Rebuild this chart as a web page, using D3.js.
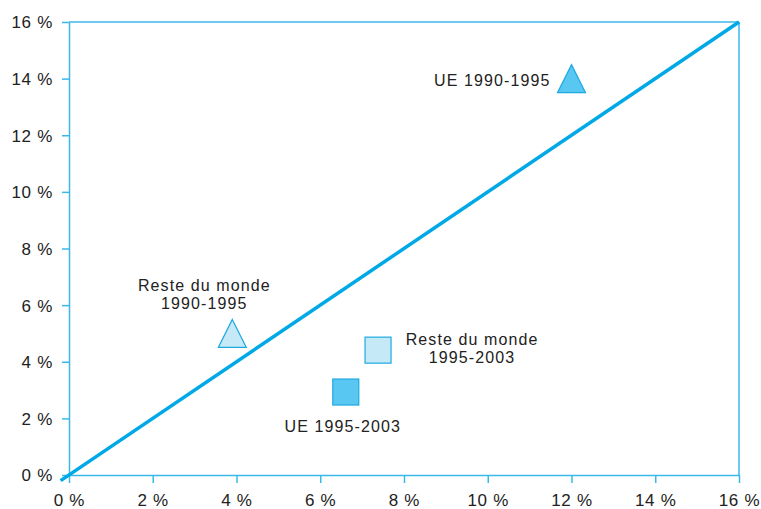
<!DOCTYPE html>
<html><head><meta charset="utf-8">
<script src="https://cdn.jsdelivr.net/npm/d3@7"></script>
<style>body{margin:0;background:#fff}svg{display:block}text{font-family:"Liberation Sans",Arial,sans-serif;fill:#222}</style>
</head><body>
<div id="chart"></div>
<script>
const xTicks = [0,2,4,6,8,10,12,14,16];
const yTicks = [0,2,4,6,8,10,12,14,16];
const names = ["UE 1990-1995","Reste du monde 1990-1995","Reste du monde 1995-2003","UE 1995-2003"];
const xVals = [12.0, 3.9, 7.38, 6.61];
const yVals = [14.0, 5.0, 4.41, 2.93];
const shapes = ["triangle","triangle","square","square"];
const fills = ["#58c8f2","#c6e9f8","#c6e9f8","#58c8f2"];
const labelLines = [["UE 1990-1995"],["Reste du monde","1990-1995"],["Reste du monde","1995-2003"],["UE 1995-2003"]];

const W=761,H=509;
const m={l:69,r:22,t:22,b:34};
const svg=d3.select("#chart").append("svg").attr("width",W).attr("height",H);
const x=d3.scaleLinear().domain([0,16]).range([m.l,W-m.r]);
const y=d3.scaleLinear().domain([0,16]).range([H-m.b,m.t]);
const axisColor="#3bb8ea";
const FS="17px", LS="0.7px", LFS="16px", LLS="1.1px";

svg.append("line").attr("x1",x(0)).attr("x2",x(16)).attr("y1",y(16)).attr("y2",y(16)).attr("stroke",axisColor).attr("stroke-width",1.5);
svg.append("line").attr("x1",x(16)).attr("x2",x(16)).attr("y1",y(16)).attr("y2",y(0)).attr("stroke",axisColor).attr("stroke-width",1.5);

const fmt=d=>d+" %";
const xa=svg.append("g").attr("transform",`translate(0,${y(0)})`).call(d3.axisBottom(x).tickValues(xTicks).tickFormat(fmt).tickSize(8).tickSizeOuter(0));
const ya=svg.append("g").attr("transform",`translate(${x(0)},0)`).call(d3.axisLeft(y).tickValues(yTicks).tickFormat(fmt).tickSize(7).tickSizeOuter(0));
[xa,ya].forEach(a=>{a.attr("font-size",null).attr("font-family",null);
 a.select(".domain").attr("stroke",axisColor).attr("stroke-width",1.5);
 a.selectAll(".tick line").attr("stroke",axisColor).attr("stroke-width",1.5);
 a.selectAll("text").style("font-size",FS).style("letter-spacing",LS).attr("fill","#222");});
xa.selectAll("text").attr("dy","0").attr("y",31);
ya.selectAll("text").attr("x",-16).attr("dy","0.35em");

svg.append("line").attr("x1",x(-0.2)).attr("y1",y(-0.2)).attr("x2",x(16)).attr("y2",y(16)).attr("stroke","#00a9e6").attr("stroke-width",3.5);

const stroke="#1ea9e1";
names.forEach((n,i)=>{
  const cx=x(xVals[i]),cy=y(yVals[i]);
  if(shapes[i]==="triangle"){
    const h=28,w=28;
    svg.append("path").attr("d",`M${cx},${cy-h/2}L${cx+w/2},${cy+h/2}L${cx-w/2},${cy+h/2}Z`).attr("fill",fills[i]).attr("stroke",stroke).attr("stroke-width",1.2);
  } else {
    const s=26;
    svg.append("rect").attr("x",cx-s/2).attr("y",cy-s/2).attr("width",s).attr("height",s).attr("fill",fills[i]).attr("stroke",stroke).attr("stroke-width",1.2);
  }
});

const labelPos=[{dx:-21,dy:7,anchor:"end"},{dx:-28,dy:-42.5,anchor:"middle"},{dx:94,dy:-5.5,anchor:"middle"},{dx:-3,dy:40,anchor:"middle"}];
labelLines.forEach((lines,i)=>{
  const p=labelPos[i];
  lines.forEach((l,j)=>svg.append("text").attr("text-anchor",p.anchor).style("font-size",LFS).style("letter-spacing",LLS)
    .attr("x",x(xVals[i])+p.dx).attr("y",y(yVals[i])+p.dy+j*18).text(l));
});
</script>
</body></html>
